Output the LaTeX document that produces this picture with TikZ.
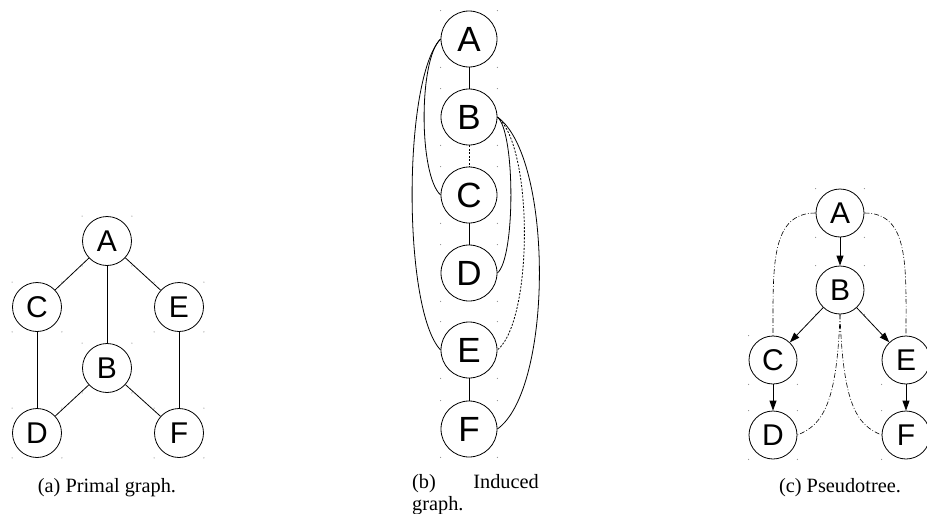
\documentclass[tikz,border=0pt]{standalone}
\usepackage{fontspec}
\setmainfont{Liberation Serif}
\newfontfamily\vtxfont{Liberation Sans}
\usetikzlibrary{arrows.meta}

% tiny marks at the corners of a vertex box
\newcommand{\boxdots}[1]{%
  \fill[black!45] (#1.west |- #1.north) circle (0.6pt);
  \fill[black!45] (#1.east |- #1.north) circle (0.6pt);
  \fill[black!45] (#1.west |- #1.south) circle (0.6pt);
  \fill[black!45] (#1.east |- #1.south) circle (0.6pt);
}

\tikzset{
  vtx/.style={draw, circle, line width=0.8pt, inner sep=0pt,
    minimum size=#1, font=\vtxfont\fontsize{30}{30}\selectfont},
  vtx/.default=49pt,
  bigvtx/.style={vtx=56pt, font=\vtxfont\fontsize{35}{35}\selectfont},
  edge/.style={line width=0.8pt},
  fillin/.style={line width=0.8pt, dash pattern=on 2pt off 1.5pt},
  backedge/.style={line width=0.6pt, dash pattern=on 5pt off 2pt on 0.8pt off 2pt},
  treeedge/.style={line width=0.8pt, -{Triangle[length=10pt,width=7pt]}},
  caption/.style={inner sep=0pt, font=\fontsize{20.3}{22}\selectfont}
}

\begin{document}
\begin{tikzpicture}[x=1pt, y=-1pt]
  \useasboundingbox (0,0) rectangle (927,514);

  % (a) primal graph
  \node[vtx] (pA) at (107,241) {A};
  \node[vtx] (pC) at (37,307) {C};
  \node[vtx] (pE) at (179,307) {E};
  \node[vtx] (pB) at (107,368) {B};
  \node[vtx] (pD) at (37,433) {D};
  \node[vtx] (pF) at (179,433) {F};
  \draw[edge] (pA) -- (pC);
  \draw[edge] (pA) -- (pB);
  \draw[edge] (pA) -- (pE);
  \draw[edge] (pC) -- (pD);
  \draw[edge] (pB) -- (pD);
  \draw[edge] (pB) -- (pF);
  \draw[edge] (pE) -- (pF);
  \foreach \n in {pA,pB,pC,pD,pE,pF} {\boxdots{\n}}
  \node[caption, anchor=base] (capa) at (107,492) {(a) Primal graph.};

  % (b) induced graph along the ordering
  \node[bigvtx] (iA) at (469,39) {A};
  \node[bigvtx] (iB) at (469,117) {B};
  \node[bigvtx] (iC) at (469,195) {C};
  \node[bigvtx] (iD) at (469,273) {D};
  \node[bigvtx] (iE) at (469,350) {E};
  \node[bigvtx] (iF) at (469,429) {F};
  \draw[edge] (iA) -- (iB);
  \draw[fillin] (iB) -- (iC);
  \draw[edge] (iC) -- (iD);
  \draw[edge] (iE) -- (iF);
  \draw[edge] (iA.west) .. controls +(-22,20) and +(-22,-20) .. (iC.west);
  \draw[edge] (iA.west) .. controls +(-38,40) and +(-38,-40) .. (iE.west);
  \draw[edge] (iB.east) .. controls +(18,15) and +(18,-15) .. (iD.east);
  \draw[fillin] (iB.east) .. controls +(36,30) and +(36,-30) .. (iE.east);
  \draw[edge] (iB.east) .. controls +(56,40) and +(56,-40) .. (iF.east);
  \foreach \n in {iA,iB,iC,iD,iE,iF} {\boxdots{\n}}
  \node[caption, anchor=base west] (capb) at (412,488) {(b)};
  \node[caption, anchor=base east] (capbi) at (539,488) {Induced};
  \node[caption, anchor=base west] (capbg) at (412,510) {graph.};

  % (c) pseudotree with back edges
  \node[vtx=48pt] (tA) at (840,213) {A};
  \node[vtx=48pt] (tB) at (840,290) {B};
  \node[vtx=48pt] (tC) at (773,360) {C};
  \node[vtx=48pt] (tE) at (906,360) {E};
  \node[vtx=48pt] (tD) at (773,435) {D};
  \node[vtx=48pt] (tF) at (906,435) {F};
  \draw[treeedge] (tA) -- (tB);
  \draw[treeedge] (tB) -- (tC);
  \draw[treeedge] (tB) -- (tE);
  \draw[treeedge] (tC) -- (tD);
  \draw[treeedge] (tE) -- (tF);
  \draw[backedge] (tA.west) .. controls +(-45,0) and +(0,-70) .. (tC.north);
  \draw[backedge] (tA.east) .. controls +(45,0) and +(0,-70) .. (tE.north);
  \draw[backedge] (tB.south) .. controls +(-3,90) and +(25,-10) .. (tD.east);
  \draw[backedge] (tB.south) .. controls +(3,90) and +(-25,-10) .. (tF.west);
  \foreach \n in {tA,tB,tC,tD,tE,tF} {\boxdots{\n}}
  \node[caption, anchor=base] (capc) at (840,492) {(c) Pseudotree.};
\end{tikzpicture}
\end{document}
